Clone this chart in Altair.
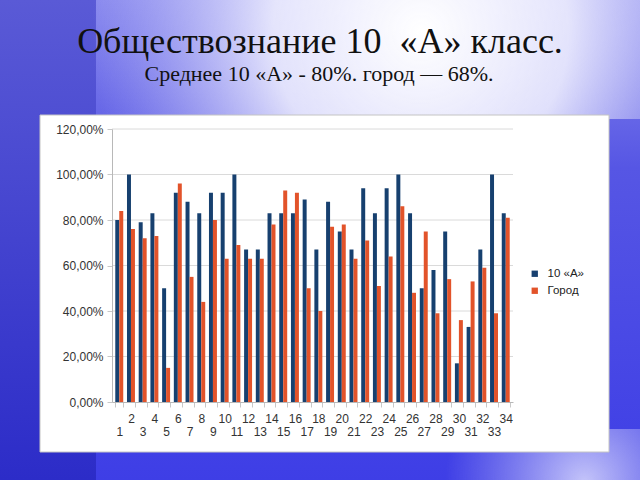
import altair as alt
import pandas as pd

# ---------------- data ----------------
class_numbers = list(range(1, 35))
class_10a = [80, 100, 79, 83, 50, 92, 88, 83, 92, 92, 100, 67, 67, 83, 83, 83, 89,
             67, 88, 75, 67, 94, 83, 94, 100, 83, 50, 58, 75, 17, 33, 67, 100, 83]
city = [84, 76, 72, 73, 15, 96, 55, 44, 80, 63, 69, 63, 63, 78, 93, 92, 50,
        40, 77, 78, 63, 71, 51, 64, 86, 48, 75, 39, 54, 36, 53, 59, 39, 81]
series_names = ["10 «А»", "Город"]
y_ticks = [0, 0.2, 0.4, 0.6, 0.8, 1.0, 1.2]
title_text = "Обществознание 10\u2002«А» класс."
subtitle_text = "Среднее 10 «А» - 80%. город — 68%."

rows = []
for n, a, c in zip(class_numbers, class_10a, city):
    rows.append({"n": n, "s": series_names[0], "v": a / 100})
    rows.append({"n": n, "s": series_names[1], "v": c / 100})
df = pd.DataFrame(rows)
grid_df = pd.DataFrame({"v": y_ticks[1:]})
one = alt.Data(values=[{"k": 1}])

BLUE = "#17406f"
ORANGE = "#e2532a"

y_scale = alt.Scale(domain=[0, 1.2], nice=False)
y_axis = alt.Axis(values=y_ticks, grid=False, zindex=1,
                  labelExpr="replace(format(datum.value, '.2%'), '.', ',')",
                  labelFont="Liberation Sans", labelFontSize=12, labelColor="#333333",
                  domainColor="#b8b8b8", tickColor="#c8c8c8", tickSize=5, labelPadding=4)

# ------------- decorative slide background -------------
bg = alt.Chart(one).mark_rect(
    fill={"gradient": "linear", "x1": 0, "y1": 0, "x2": 0, "y2": 1,
          "stops": [{"offset": 0, "color": "#8a8aee"},
                    {"offset": 0.35, "color": "#5656e4"},
                    {"offset": 1, "color": "#3e3ee6"}]}
).encode(x=alt.value(-112), x2=alt.value(528), y=alt.value(-129), y2=alt.value(351))

left_strip = alt.Chart(one).mark_rect(
    fill={"gradient": "linear", "x1": 0, "y1": 0, "x2": 0, "y2": 1,
          "stops": [{"offset": 0, "color": "#5a5ad6"},
                    {"offset": 1, "color": "#2c2cc8"}]}
).encode(x=alt.value(-112), x2=alt.value(-16), y=alt.value(-129), y2=alt.value(351))

glow = alt.Chart(one).mark_rect(
    fill={"gradient": "radial", "x1": 0.6, "y1": 0.45, "r1": 0,
          "x2": 0.6, "y2": 0.45, "r2": 0.6,
          "stops": [{"offset": 0, "color": "rgba(255,255,255,1)"},
                    {"offset": 0.45, "color": "rgba(245,245,255,0.85)"},
                    {"offset": 1, "color": "rgba(200,200,250,0)"}]}
).encode(x=alt.value(-20), x2=alt.value(528), y=alt.value(-129), y2=alt.value(-10))

glow2 = alt.Chart(one).mark_rect(
    fill={"gradient": "radial", "x1": 0.8, "y1": 0.6, "r1": 0,
          "x2": 0.8, "y2": 0.6, "r2": 0.5,
          "stops": [{"offset": 0, "color": "rgba(230,230,255,0.8)"},
                    {"offset": 1, "color": "rgba(200,200,250,0)"}]}
).encode(x=alt.value(250), x2=alt.value(528), y=alt.value(300), y2=alt.value(351))

panel = alt.Chart(one).mark_rect(fill="white", stroke="#c4c4c4", strokeWidth=1).encode(
    x=alt.value(-72), x2=alt.value(497), y=alt.value(-14), y2=alt.value(323))

# ------------- grid lines -------------
grid = alt.Chart(grid_df).mark_rule(color="#dadada", strokeWidth=1).encode(
    y=alt.Y("v:Q", title=None, scale=y_scale, axis=y_axis))

# ------------- bars -------------
bars = alt.Chart(df).mark_bar().encode(
    x=alt.X("n:O", title=None,
            scale=alt.Scale(paddingInner=0.32, paddingOuter=0.28),
            axis=alt.Axis(labelAngle=0, labelFont="Liberation Sans", labelFontSize=12,
                          labelColor="#333333", domainColor="#b8b8b8", tickColor="#c8c8c8",
                          tickSize=5, tickBand="extent", zindex=1,
                          labelPadding={"condition": {"test": "datum.value % 2 == 1", "value": 19},
                                        "value": 6})),
    xOffset=alt.XOffset("s:N", sort=series_names, scale=alt.Scale(paddingInner=0, paddingOuter=0)),
    y=alt.Y("v:Q", title=None, scale=y_scale, axis=y_axis),
    color=alt.Color("s:N", sort=series_names,
                    scale=alt.Scale(domain=series_names, range=[BLUE, ORANGE]),
                    legend=alt.Legend(title=None, orient="none", legendX=417, legendY=139,
                                      symbolType="square", symbolSize=40, symbolStrokeWidth=0,
                                      labelFont="Liberation Sans", labelFontSize=11.5,
                                      labelColor="#222222", labelOffset=7, rowPadding=4,
                                      padding=0)),
)

# ------------- titles -------------
title = alt.Chart(one).mark_text(font="Liberation Serif", fontSize=36, color="#111111",
                                 align="center", baseline="alphabetic").encode(
    x=alt.value(208), y=alt.value(-76), text=alt.value(title_text))
subtitle = alt.Chart(one).mark_text(font="Liberation Serif", fontSize=22, color="#111111",
                                    align="center", baseline="alphabetic").encode(
    x=alt.value(207), y=alt.value(-48), text=alt.value(subtitle_text))

chart = alt.layer(bg, left_strip, glow, glow2, panel, grid, bars, title, subtitle).properties(
    width=401, height=273,
    padding={"left": 112, "top": 129, "right": 127, "bottom": 78},
    autosize=alt.AutoSizeParams(type="none"),
).configure_view(stroke=None).configure(background="#4444e0")

chart.save("out.html", embed_options={"renderer": "svg", "actions": False})
